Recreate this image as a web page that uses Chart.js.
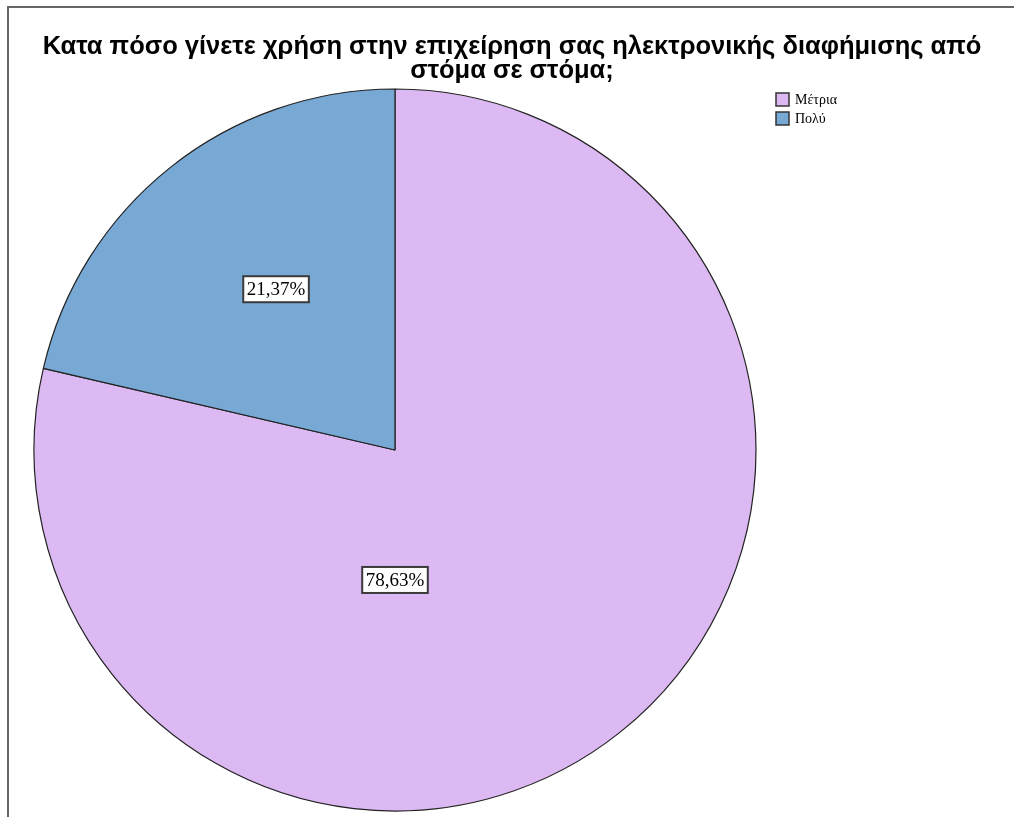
<!DOCTYPE html>
<html>
<head>
<meta charset="utf-8">
<script src="https://cdn.jsdelivr.net/npm/chart.js@4.4.0/dist/chart.umd.min.js"></script>
<style>
  html, body { margin: 0; padding: 0; background: #fff; }
  canvas { display: block; }
</style>
</head>
<body>
<canvas id="pieChart" width="1014" height="817"></canvas>
<script>
// Survey answers and their shares (percent)
const categories = ['Μέτρια', 'Πολύ'];
const shares = [78.63, 21.37];
const sliceColors = ['#dcb9f2', '#78a8d4'];
const titleLines = [
  'Κατα πόσο γίνετε χρήση στην επιχείρηση σας ηλεκτρονικής διαφήμισης από',
  'στόμα σε στόμα;'
];

// Frame + title drawn behind everything
const framePlugin = {
  id: 'frameTitle',
  beforeDraw(chart) {
    const ctx = chart.ctx;
    ctx.save();
    ctx.fillStyle = '#fff';
    ctx.fillRect(0, 0, chart.width, chart.height);
    ctx.strokeStyle = '#666';
    ctx.lineWidth = 2;
    ctx.beginPath();
    ctx.moveTo(8, chart.height);
    ctx.lineTo(8, 7);
    ctx.lineTo(chart.width, 7);
    ctx.stroke();

    ctx.fillStyle = '#000';
    ctx.font = 'bold 25.5px "Liberation Sans", Arial, sans-serif';
    ctx.textAlign = 'center';
    ctx.textBaseline = 'alphabetic';
    titleLines.forEach((line, i) => {
      ctx.fillText(line, 512, 54 + i * 24);
    });
    ctx.restore();
  }
};

// Boxed percentage labels inside the slices
const labelPlugin = {
  id: 'sliceLabels',
  afterDatasetsDraw(chart, args, opts) {
    const ctx = chart.ctx;
    const meta = chart.getDatasetMeta(0);
    ctx.save();
    ctx.font = '19px "Liberation Serif", "Times New Roman", serif';
    ctx.textAlign = 'center';
    ctx.textBaseline = 'middle';
    meta.data.forEach((arc, i) => {
      const p = opts.place[i];
      const ang = p.deg == null
        ? (arc.startAngle + arc.endAngle) / 2
        : (p.deg - 90) * Math.PI / 180;
      const r = arc.outerRadius * p.frac;
      const x = arc.x + Math.cos(ang) * r;
      const y = arc.y + Math.sin(ang) * r;
      const text = shares[i].toFixed(2).replace('.', ',') + '%';
      const w = ctx.measureText(text).width + 7;
      const h = 26;
      ctx.fillStyle = '#fff';
      ctx.fillRect(x - w / 2, y - h / 2, w, h);
      ctx.strokeStyle = '#3a3a3a';
      ctx.lineWidth = 2;
      ctx.strokeRect(x - w / 2, y - h / 2, w, h);
      ctx.fillStyle = '#000';
      ctx.fillText(text, x, y + 1);
    });
    ctx.restore();
  }
};

// Legend in the top right corner
const legendPlugin = {
  id: 'sideLegend',
  afterDraw(chart) {
    const ctx = chart.ctx;
    ctx.save();
    ctx.font = '14px "Liberation Serif", "Times New Roman", serif';
    ctx.textBaseline = 'middle';
    categories.forEach((name, i) => {
      const y = 93 + i * 19;
      ctx.fillStyle = sliceColors[i];
      ctx.fillRect(776, y, 13, 13);
      ctx.strokeStyle = '#333';
      ctx.lineWidth = 1.5;
      ctx.strokeRect(776, y, 13, 13);
      ctx.fillStyle = '#000';
      ctx.fillText(name, 795, y + 7);
    });
    ctx.restore();
  }
};

new Chart(document.getElementById('pieChart'), {
  type: 'pie',
  data: {
    labels: categories,
    datasets: [{
      data: shares,
      backgroundColor: sliceColors,
      borderColor: '#222',
      borderWidth: 1.2,
      radius: 361
    }]
  },
  options: {
    responsive: false,
    animation: false,
    devicePixelRatio: 1,
    layout: { padding: { left: 0, right: 224, top: 83, bottom: 0 } },
    plugins: {
      legend: { display: false },
      tooltip: { enabled: false },
      sliceLabels: {
        place: [{ deg: 180, frac: 0.36 }, { deg: 323.5, frac: 0.554 }]
      }
    }
  },
  plugins: [framePlugin, labelPlugin, legendPlugin]
});
</script>
</body>
</html>
